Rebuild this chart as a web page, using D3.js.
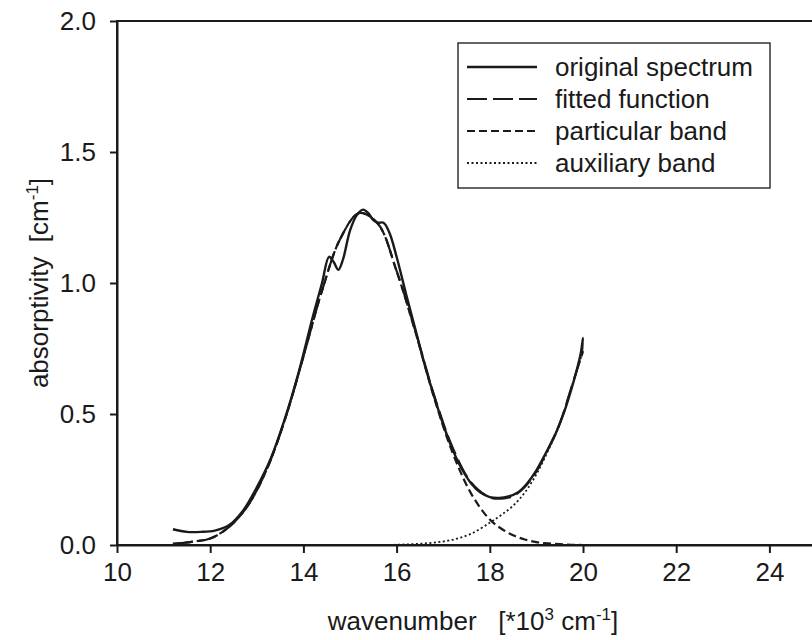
<!DOCTYPE html>
<html>
<head>
<meta charset="utf-8">
<script src="https://cdn.jsdelivr.net/npm/d3@7"></script>
<style>
  body { margin: 0; background: #fff; }
  svg { display: block; font-family: "Liberation Sans", Arial, sans-serif; }
</style>
</head>
<body>
<script>
// wavenumber [*10^3 cm-1] and absorptivity [cm-1]
var origX = [11.2, 11.5, 11.8, 12.1, 12.4, 12.7, 13.0, 13.3, 13.6, 13.9, 14.2, 14.4, 14.55, 14.65, 14.75, 14.85, 15.0, 15.15, 15.28, 15.4, 15.5, 15.6, 15.72, 15.85, 16.0, 16.2, 16.4, 16.6, 16.8, 17.0, 17.2, 17.4, 17.6, 17.8, 18.0, 18.2, 18.4, 18.6, 18.8, 19.0, 19.2, 19.4, 19.6, 19.8, 19.95, 20.0, 19.97];
var origY = [0.06, 0.05, 0.05, 0.055, 0.075, 0.13, 0.22, 0.33, 0.48, 0.66, 0.87, 1.00, 1.10, 1.08, 1.05, 1.09, 1.20, 1.26, 1.28, 1.265, 1.24, 1.23, 1.23, 1.19, 1.10, 0.96, 0.825, 0.69, 0.57, 0.46, 0.365, 0.29, 0.235, 0.2, 0.183, 0.18, 0.185, 0.20, 0.235, 0.285, 0.35, 0.42, 0.51, 0.625, 0.73, 0.79, 0.72];

var gridX = [11.2, 11.6, 12.0, 12.4, 12.8, 13.2, 13.6, 14.0, 14.4, 14.8, 15.2, 15.6, 16.0, 16.4, 16.8, 17.2, 17.6, 18.0, 18.25, 18.5, 18.75, 19.0, 19.25, 19.5, 19.75, 20.0];
var bandY = [0.004, 0.012, 0.025, 0.068, 0.148, 0.283, 0.477, 0.719, 0.971, 1.172, 1.267, 1.226, 1.045, 0.815, 0.565, 0.353, 0.196, 0.097, 0.062, 0.037, 0.021, 0.011, 0.006, 0.003, 0.001, 0.0];
var auxY  = [0.0, 0.0, 0.0, 0.0, 0.0, 0.0, 0.0, 0.0, 0.0, 0.0, 0.0, 0.0, 0.001, 0.004, 0.009, 0.02, 0.043, 0.085, 0.115, 0.15, 0.2, 0.27, 0.36, 0.46, 0.6, 0.74];
var fitY  = [0.004, 0.012, 0.025, 0.068, 0.148, 0.283, 0.477, 0.719, 0.971, 1.172, 1.267, 1.226, 1.046, 0.819, 0.574, 0.373, 0.239, 0.182, 0.177, 0.187, 0.221, 0.281, 0.366, 0.463, 0.601, 0.74];

var xTicks = [10, 12, 14, 16, 18, 20, 22, 24];
var yTicks = [0.0, 0.5, 1.0, 1.5, 2.0];
var legendNames = ["original spectrum", "fitted function", "particular band", "auxiliary band"];

var width = 812, height = 640;
var m = {left: 117, top: 21, bottom: 545};
m.right = m.left + 16 * 46.6;

var svg = d3.select("body").append("svg")
    .attr("width", width)
    .attr("height", height);

var x = d3.scaleLinear().domain([10, 26]).range([m.left, m.right]);
var y = d3.scaleLinear().domain([0, 2]).range([m.bottom, m.top]);

var ink = "#1a1a1a";

// frame (right side falls outside the picture, as in the original)
svg.append("rect")
    .attr("x", m.left).attr("y", m.top)
    .attr("width", m.right - m.left).attr("height", m.bottom - m.top)
    .attr("fill", "none").attr("stroke", ink).attr("stroke-width", 2);

var xAxis = d3.axisBottom(x).tickValues(xTicks).tickSize(8).tickSizeOuter(0).tickPadding(10)
    .tickFormat(d3.format("d"));
var yAxis = d3.axisLeft(y).tickValues(yTicks).tickSize(7).tickSizeOuter(0).tickPadding(14)
    .tickFormat(d3.format(".1f"));

var gx = svg.append("g").attr("transform", "translate(0," + m.bottom + ")").call(xAxis);
var gy = svg.append("g").attr("transform", "translate(" + m.left + ",0)").call(yAxis);
[gx, gy].forEach(function(g){
    g.select(".domain").attr("stroke", ink).attr("stroke-width", 2);
    g.selectAll(".tick line").attr("stroke", ink).attr("stroke-width", 2);
    g.selectAll(".tick text").attr("fill", ink).style("font-size", "26px")
        .style("font-family", "Liberation Sans, Arial, sans-serif");
});

// axis titles
var xt = svg.append("text")
    .attr("x", 473).attr("y", 630)
    .attr("text-anchor", "middle")
    .style("white-space", "pre")
    .attr("fill", ink).style("font-size", "26px");
xt.append("tspan").text("wavenumber   [*10");
xt.append("tspan").attr("dy", -10).style("font-size", "17px").text("3");
xt.append("tspan").attr("dy", 10).text(" cm");
xt.append("tspan").attr("dy", -10).style("font-size", "17px").text("-1");
xt.append("tspan").attr("dy", 10).text("]");

var yt = svg.append("text")
    .attr("transform", "translate(48,283) rotate(-90)")
    .attr("text-anchor", "middle")
    .style("white-space", "pre")
    .attr("fill", ink).style("font-size", "26px");
yt.append("tspan").text("absorptivity  [cm");
yt.append("tspan").attr("dy", -10).style("font-size", "17px").text("-1");
yt.append("tspan").attr("dy", 10).text("]");

// curves
var line = d3.line()
    .x(function(d){ return x(d[0]); })
    .y(function(d){ return y(d[1]); })
    .curve(d3.curveCatmullRom.alpha(0.5));

var series = [
    { pts: d3.zip(gridX, auxY),  dash: "2,2.5", w: 1.8 },
    { pts: d3.zip(gridX, bandY), dash: "8,4",  w: 2.2 },
    { pts: d3.zip(gridX, fitY),  dash: "20,6", w: 2.2 },
    { pts: d3.zip(origX, origY), dash: null,   w: 2.4 }
];

svg.append("g").selectAll("path")
    .data(series)
    .enter().append("path")
    .attr("d", function(d){ return line(d.pts); })
    .attr("fill", "none")
    .attr("stroke", ink)
    .attr("stroke-width", function(d){ return d.w; })
    .attr("stroke-dasharray", function(d){ return d.dash; })
    .attr("stroke-linejoin", "round");

// legend
var lg = svg.append("g");
lg.append("rect")
    .attr("x", 458).attr("y", 43).attr("width", 312).attr("height", 145)
    .attr("fill", "#fff").attr("stroke", "#333").attr("stroke-width", 1.5);

var legendDash = [null, "20,6", "8,4", "2,2.5"];
var legendW = [2.4, 2.2, 2.2, 1.8];
legendNames.forEach(function(name, i){
    var cy = 67 + i * 32;
    lg.append("line")
        .attr("x1", 467).attr("x2", 537)
        .attr("y1", cy).attr("y2", cy)
        .attr("stroke", ink).attr("stroke-width", legendW[i])
        .attr("stroke-dasharray", legendDash[i]);
    lg.append("text")
        .attr("x", 555).attr("y", cy + 9)
        .attr("fill", ink).style("font-size", "26px")
        .text(name);
});
</script>
</body>
</html>
